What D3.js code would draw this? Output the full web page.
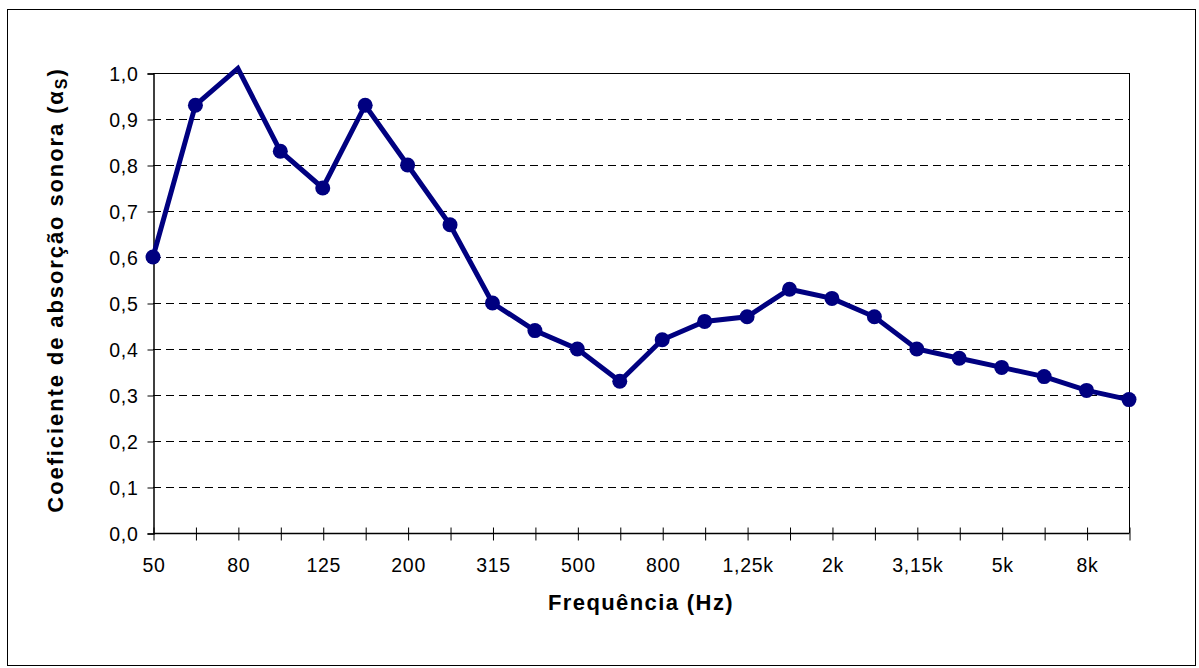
<!DOCTYPE html>
<html>
<head>
<meta charset="utf-8">
<script src="https://cdn.jsdelivr.net/npm/d3@7"></script>
<style>
  html, body { margin: 0; padding: 0; background: #fff; }
  svg { display: block; font-family: "Liberation Sans", Arial, sans-serif; }
</style>
</head>
<body>
<svg id="chart" width="1199" height="668"></svg>
<script>
const categories = ["50","63","80","100","125","160","200","250","315","400","500","630","800","1k","1,25k","1,6k","2k","2,5k","3,15k","4k","5k","6,3k","8k","10k"];
const shownLabels = ["50","80","125","200","315","500","800","1,25k","2k","3,15k","5k","8k"];
const values = [0.60,0.93,1.01,0.83,0.75,0.93,0.80,0.67,0.50,0.44,0.40,0.33,0.42,0.46,0.47,0.53,0.51,0.47,0.40,0.38,0.36,0.34,0.31,0.29];
const yTicks = [0,0.1,0.2,0.3,0.4,0.5,0.6,0.7,0.8,0.9,1.0];

const svg = d3.select("#chart");
const pL = 153, pR = 1129, pT = 73, pB = 533;
const FONT = "'Liberation Sans', Arial, sans-serif";

svg.append("rect").attr("x", 7.5).attr("y", 9.5).attr("width", 1188).attr("height", 656)
  .attr("fill", "#fff").attr("stroke", "#000").attr("stroke-width", 1);

const x = d3.scalePoint().domain(categories).range([pL, pR]);
const y = d3.scaleLinear().domain([0, 1]).range([pB, pT]);

// gridlines
svg.append("g").selectAll("line").data(yTicks.slice(1, -1)).join("line")
  .attr("x1", pL).attr("x2", pR)
  .attr("y1", d => Math.round(y(d)) + 0.5).attr("y2", d => Math.round(y(d)) + 0.5)
  .attr("stroke", "#000").attr("stroke-width", 1).attr("stroke-dasharray", "8,5");

// plot border top & right
svg.append("line").attr("x1", pL).attr("x2", pR + 0.5).attr("y1", pT + 0.5).attr("y2", pT + 0.5).attr("stroke", "#000");
svg.append("line").attr("x1", pR + 0.5).attr("x2", pR + 0.5).attr("y1", pT).attr("y2", pB).attr("stroke", "#000");

// y axis
const yAxis = d3.axisLeft(y).tickValues(yTicks).tickSize(6).tickPadding(9)
  .tickFormat(d => d3.format(".1f")(d).replace(".", ","));
const gy = svg.append("g").attr("transform", `translate(${pL + 0.5},0.5)`).call(yAxis);
gy.select(".domain").attr("stroke", "#000").attr("stroke-width", 1.5);
gy.selectAll(".tick line").attr("stroke", "#000");
gy.selectAll(".tick text").attr("font-size", 19.5).attr("letter-spacing", 0.7).attr("fill", "#000")
  .attr("font-family", FONT).attr("dy", "0.36em");

// x axis
const xAxis = d3.axisBottom(x).tickSize(7).tickPadding(13)
  .tickFormat(d => shownLabels.includes(d) ? d : "");
const gx = svg.append("g").attr("transform", `translate(0.5,${pB + 0.5})`).call(xAxis);
gx.select(".domain").attr("stroke", "#000").attr("stroke-width", 1.5).attr("d", `M${pL},0H${pR}`);
gx.selectAll(".tick line").attr("stroke", "#000").attr("y1", -6);
gx.selectAll(".tick text").attr("font-size", 19.5).attr("letter-spacing", 0.7).attr("fill", "#000")
  .attr("font-family", FONT).attr("y", 38).attr("dy", null);

// line
const line = d3.line().x((d, i) => x(categories[i])).y(d => y(d));
svg.append("path").datum(values).attr("d", line)
  .attr("fill", "none").attr("stroke", "#000080").attr("stroke-width", 5).attr("stroke-linejoin", "miter");

// markers (hidden if outside plot area)
svg.append("g").selectAll("circle").data(values.map((v, i) => ({v, c: categories[i]})).filter(d => d.v <= 1))
  .join("circle")
  .attr("cx", d => x(d.c)).attr("cy", d => y(d.v)).attr("r", 7.5)
  .attr("fill", "#000080");

// axis titles
svg.append("text").attr("x", 641).attr("y", 610)
  .attr("text-anchor", "middle").attr("font-size", 22).attr("letter-spacing", 1.4)
  .attr("font-weight", "bold").attr("fill", "#000").attr("font-family", FONT)
  .text("Frequência (Hz)");

const yt = svg.append("text").attr("transform", `translate(63,290) rotate(-90)`)
  .attr("text-anchor", "middle").attr("font-size", 22).attr("letter-spacing", 1.9)
  .attr("font-weight", "bold").attr("fill", "#000").attr("font-family", FONT);
yt.append("tspan").text("Coeficiente de absorção sonora (α");
yt.append("tspan").attr("font-size", 16).attr("dy", 4).text("S");
yt.append("tspan").attr("dy", -4).text(")");
</script>
</body>
</html>
